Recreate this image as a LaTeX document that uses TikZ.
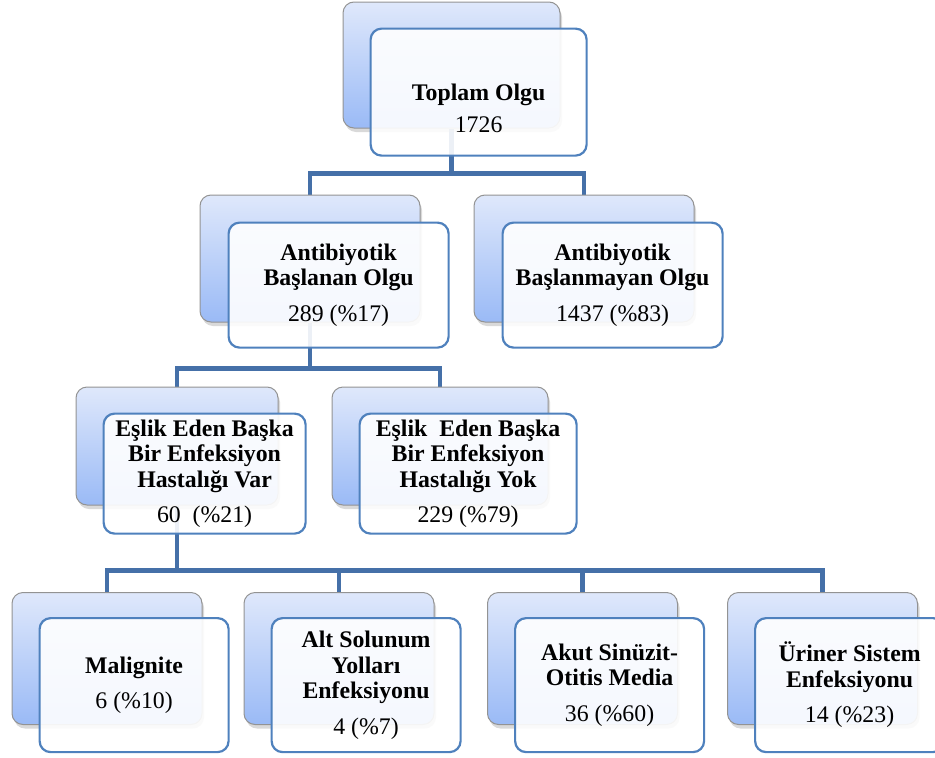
\documentclass[tikz,border=0pt]{standalone}
\usepackage{fontspec}
\setmainfont{Liberation Serif}
\usepackage{tikz}
\usetikzlibrary{positioning,shadows,backgrounds}
\definecolor{linkblue}{HTML}{4570A8}
\definecolor{boxborder}{HTML}{4F81BD}
\definecolor{backtop}{HTML}{DFE8FB}
\definecolor{backbottom}{HTML}{9ABAF6}
\tikzset{
	every node/.style = {font=\fontsize{23.8}{25.5}\selectfont, inner sep = 3pt, align=center},
	backbox/.style = {rectangle, rounded corners=11pt, draw=gray!85, line width=1pt, top color=backtop, bottom color=backbottom, drop shadow={shadow xshift=2pt, shadow yshift=-4pt, opacity=0.3}},
	frontbox/.style = {rectangle, rounded corners=11pt, draw=boxborder, line width=2.2pt, fill=white, fill opacity=0.9, text opacity=1},
	link/.style = {draw=linkblue, line width=4.8pt},
	>=latex
}

\begin{document}
\begin{tikzpicture}[x=1pt, y=-1pt]
		\useasboundingbox (0,0) rectangle (935,758);
		% first row
		\node[backbox, minimum width=217pt, minimum height=126pt] (toplamback) at (451.5,65) {};
		\node[frontbox, minimum width=216pt, minimum height=127pt, below right=26pt and 27pt of toplamback.north west] (toplam) {\mbox{}\\[24pt]\textbf{Toplam Olgu}\\[6pt]1726};
		% second row
		\node[backbox, minimum width=220pt, minimum height=127pt] (baslananback) at (310,258.5) {};
		\node[frontbox, minimum width=220pt, minimum height=125pt, below right=27pt and 28pt of baslananback.north west] (baslanan) {\textbf{Antibiyotik}\\\textbf{Başlanan Olgu}\\[10pt]289 (\%17)};
		\node[backbox, minimum width=220pt, minimum height=127pt] (baslanmayanback) at (584,258.5) {};
		\node[frontbox, minimum width=220pt, minimum height=125pt, below right=27pt and 28pt of baslanmayanback.north west] (baslanmayan) {\textbf{Antibiyotik}\\\textbf{Başlanmayan Olgu}\\[10pt]1437 (\%83)};
		% third row
		\node[backbox, minimum width=202pt, minimum height=118pt] (eslikvarback) at (177,446) {};
		\node[frontbox, minimum width=202pt, minimum height=120pt, below right=26pt and 27pt of eslikvarback.north west] (eslikvar) {\textbf{Eşlik Eden Başka}\\\textbf{Bir Enfeksiyon}\\\textbf{Hastalığı Var}\\[10pt]60\ \ (\%21)};
		\node[backbox, minimum width=216pt, minimum height=118pt] (eslikyokback) at (440,446) {};
		\node[frontbox, minimum width=217pt, minimum height=120pt, below right=26pt and 27pt of eslikyokback.north west] (eslikyok) {\textbf{Eşlik\ \ Eden Başka}\\\textbf{Bir Enfeksiyon}\\\textbf{Hastalığı Yok}\\[10pt]229 (\%79)};
		% fourth row
		\node[backbox, minimum width=190pt, minimum height=132pt] (maligniteback) at (107,658.5) {};
		\node[frontbox, minimum width=189pt, minimum height=134pt, below right=25pt and 27pt of maligniteback.north west] (malignite) {\textbf{Malignite}\\[10pt]6 (\%10)};
		\node[backbox, minimum width=190pt, minimum height=132pt] (altsolunumback) at (339,658.5) {};
		\node[frontbox, minimum width=189pt, minimum height=134pt, below right=25pt and 27pt of altsolunumback.north west] (altsolunum) {\textbf{Alt Solunum}\\\textbf{Yolları}\\\textbf{Enfeksiyonu}\\[10pt]4 (\%7)};
		\node[backbox, minimum width=190pt, minimum height=132pt] (sinuzitback) at (582.5,658.5) {};
		\node[frontbox, minimum width=189pt, minimum height=134pt, below right=25pt and 27pt of sinuzitback.north west] (sinuzit) {\textbf{Akut Sinüzit-}\\\textbf{Otitis Media}\\[10pt]36 (\%60)};
		\node[backbox, minimum width=190pt, minimum height=132pt] (urinerback) at (822.5,658.5) {};
		\node[frontbox, minimum width=189pt, minimum height=134pt, below right=25pt and 27pt of urinerback.north west] (uriner) {\textbf{Üriner Sistem}\\\textbf{Enfeksiyonu}\\[10pt]14 (\%23)};
		
		% connectors
		\begin{scope}[on background layer]
			\draw[link] (toplamback.south) -- ++(0,45) coordinate (j1) -| (baslananback.north);
			\draw[link] (j1) -| (baslanmayanback.north);
			\draw[link] (baslananback.south) -- ++(0,46) coordinate (j2) -| (eslikvarback.north);
			\draw[link] (j2) -| (eslikyokback.north);
			\draw[link] (eslikvarback.south) -- ++(0,65) coordinate (j3) -| (maligniteback.north);
			\draw[link] (j3) -| (altsolunumback.north);
			\draw[link] (j3) -| (sinuzitback.north);
			\draw[link] (j3) -| (urinerback.north);
		\end{scope}
\end{tikzpicture}
\end{document}
